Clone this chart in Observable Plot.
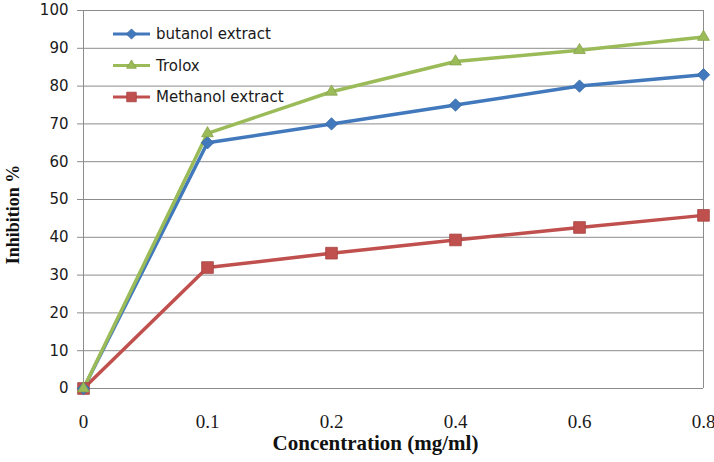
<!DOCTYPE html>
<html>
<head>
<meta charset="utf-8">
<script src="https://cdn.jsdelivr.net/npm/d3@7"></script>
<script src="https://cdn.jsdelivr.net/npm/@observablehq/plot@0.6"></script>
<style>
  html, body { margin: 0; padding: 0; background: #ffffff; }
  #chart { width: 714px; height: 462px; }
</style>
</head>
<body>
<div id="chart"></div>
<script>
const concentrations = ["0", "0.1", "0.2", "0.4", "0.6", "0.8"];
const butanol = [0, 65, 70, 75, 80, 83];
const trolox = [0, 67.5, 78.5, 86.5, 89.5, 93];
const methanol = [0, 32, 35.8, 39.3, 42.6, 45.8];
const seriesNames = ["butanol extract", "Trolox", "Methanol extract"];
const seriesColors = ["#4279bd", "#9bbb59", "#c0504d"];
const seriesSymbols = ["diamond2", "triangle2", "square"];
const yTicks = [0, 10, 20, 30, 40, 50, 60, 70, 80, 90, 100];

const seriesValues = [butanol, trolox, methanol];
const data = [];
seriesNames.forEach((name, i) => {
  concentrations.forEach((c, j) => data.push({series: name, conc: c, value: seriesValues[i][j]}));
});

const W = 714, H = 462;
const gridColor = "#8c8c8c";

const marks = [
  Plot.ruleY(yTicks, {stroke: gridColor, strokeWidth: 1}),
  Plot.ruleX([concentrations[0], concentrations[concentrations.length - 1]], {y1: 0, y2: 100, stroke: gridColor, strokeWidth: 1}),
  Plot.axisY({ticks: yTicks, tickSize: 6, tickPadding: 9, stroke: gridColor, label: null,
    fontSize: 15, fontFamily: "DejaVu Sans", fill: "#1a1a1a"}),
  Plot.axisX({tickSize: 0, tickPadding: 26, label: null,
    fontSize: 19, fontFamily: "Liberation Serif", fill: "#1a1a1a"}),
  Plot.text(["Inhibition %"], {frameAnchor: "left", textAnchor: "middle", lineAnchor: "middle",
    rotate: -90, dx: -70, dy: 15,
    fontSize: 18, fontWeight: "bold", fontFamily: "Liberation Serif", fill: "#111"}),
  Plot.text(["Concentration (mg/ml)"], {frameAnchor: "bottom", textAnchor: "middle", lineAnchor: "middle",
    dx: -18, dy: 55,
    fontSize: 21, fontWeight: "bold", fontFamily: "Liberation Serif", fill: "#111"})
];

const order = [2, 0, 1];
order.forEach(i => {
  const d = data.filter(r => r.series === seriesNames[i]);
  marks.push(Plot.line(d, {x: "conc", y: "value", stroke: seriesColors[i], strokeWidth: 3.5}));
});
order.forEach(i => {
  const d = data.filter(r => r.series === seriesNames[i]);
  marks.push(Plot.dot(d, {x: "conc", y: "value", symbol: seriesSymbols[i],
    r: seriesSymbols[i] === "square" ? 6.6 : 5.6,
    fill: seriesColors[i], stroke: d3.color(seriesColors[i]).darker(0.4).formatHex(), strokeWidth: 0.8}));
});

const chart = Plot.plot({
  width: W,
  height: H,
  marginLeft: 83,
  marginRight: 11,
  marginTop: 10,
  marginBottom: 74,
  style: {background: "#ffffff", overflow: "visible"},
  x: {type: "point", domain: concentrations, padding: 0},
  y: {domain: [0, 100]},
  marks
});

// legend inside plot area (top-left)
const svg = d3.select(chart);
const lg = svg.append("g").attr("transform", "translate(113,34)");
seriesNames.forEach((name, i) => {
  const g = lg.append("g").attr("transform", `translate(0,${i * 31.5})`);
  g.append("line").attr("x1", 0).attr("x2", 37).attr("y1", 0).attr("y2", 0)
    .attr("stroke", seriesColors[i]).attr("stroke-width", 3);
  const sym = {diamond2: d3.symbolDiamond2, triangle2: d3.symbolTriangle2, square: d3.symbolSquare}[seriesSymbols[i]];
  const r = seriesSymbols[i] === "square" ? 5.4 : 4.6;
  g.append("path").attr("d", d3.symbol(sym, Math.PI * r * r)()).attr("transform", "translate(18.5,0)")
    .attr("fill", seriesColors[i]).attr("stroke", d3.color(seriesColors[i]).darker(0.4).formatHex()).attr("stroke-width", 0.8);
  g.append("text").attr("x", 43).attr("y", 0).attr("dy", "0.35em").attr("text-anchor", "start")
    .attr("font-family", "DejaVu Sans").attr("font-size", 15).attr("fill", "#1a1a1a").text(name);
});

document.getElementById("chart").appendChild(chart);
</script>
</body>
</html>
